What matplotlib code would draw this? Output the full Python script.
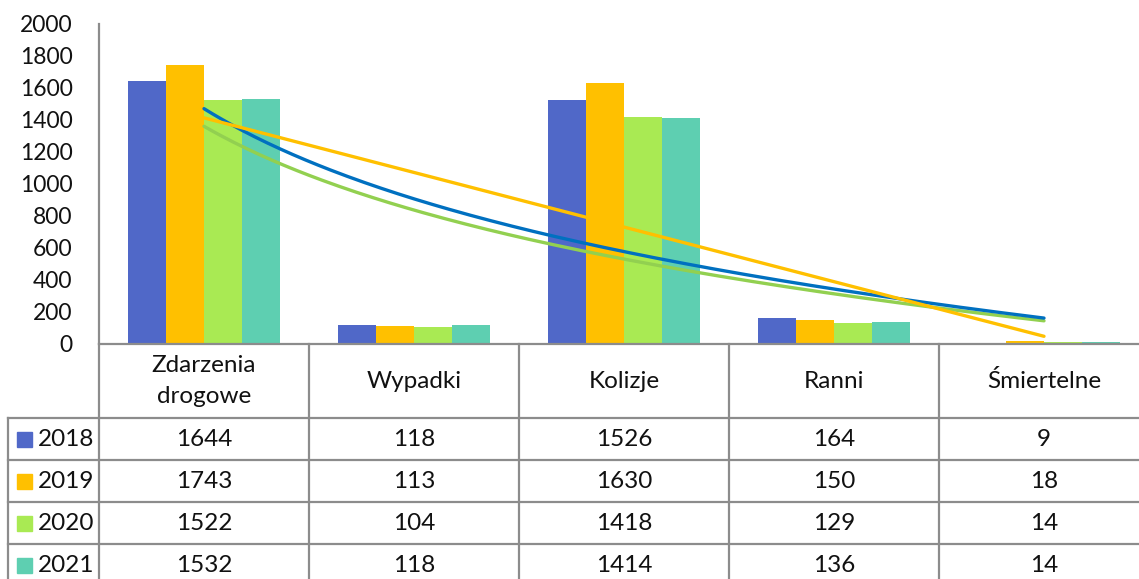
import numpy as np
import matplotlib
matplotlib.use("Agg")
import matplotlib.pyplot as plt
import matplotlib.transforms as mtransforms
from matplotlib.patches import Rectangle

plt.rcParams['font.family'] = ['Lato', 'DejaVu Sans']
plt.rcParams['font.size'] = 16

categories = ["Zdarzenia\ndrogowe", "Wypadki", "Kolizje", "Ranni", "Śmiertelne"]
years = ["2018", "2019", "2020", "2021"]
v2018 = [1644, 118, 1526, 164, 9]
v2019 = [1743, 113, 1630, 150, 18]
v2020 = [1522, 104, 1418, 129, 14]
v2021 = [1532, 118, 1414, 136, 14]
series = [v2018, v2019, v2020, v2021]
bar_colors = ["#5068C8", "#FFC000", "#A9EA53", "#5ECFB1"]
yticks = list(range(0, 2001, 200))

W, H = 1139, 579
fig = plt.figure(figsize=(W / 100, H / 100), dpi=100)
fig.patch.set_facecolor("white")

# chart axes: x runs 99px -> 1149px (last column cut off by the image edge)
col_w = 210
ax = fig.add_axes([99 / W, (H - 344) / H, 5 * col_w / W, 320 / H])
x = np.arange(1, len(categories) + 1)
bw = 152 / col_w / 4
for i, (vals, c) in enumerate(zip(series, bar_colors)):
    ax.bar(x + (i - 1.5) * bw, vals, width=bw, color=c, zorder=2)

# trendlines: log for 2018 and 2020, linear for 2019
xs = np.linspace(1, 5, 200)
b, a = np.polyfit(np.log(x), v2018, 1)
ax.plot(xs, a + b * np.log(xs), color="#0070C0", lw=2.4, zorder=4, solid_capstyle="round")
b, a = np.polyfit(x, v2019, 1)
ax.plot(xs, a + b * xs, color="#FFC000", lw=2.4, zorder=4, solid_capstyle="round")
b, a = np.polyfit(np.log(x), v2020, 1)
ax.plot(xs, a + b * np.log(xs), color="#92D050", lw=2.4, zorder=3, solid_capstyle="round")

ax.set_xlim(0.5, 5.5)
ax.set_ylim(0, 2000)
ax.set_yticks(yticks)
ax.set_xticks([])
ax.tick_params(axis="y", length=0, pad=19, labelsize=16.5, labelcolor="#111111")
for s in ["top", "right"]:
    ax.spines[s].set_visible(False)
ax.spines["left"].set_color("#8C8C8C")
ax.spines["left"].set_linewidth(1.6)
ax.spines["bottom"].set_color("#8C8C8C")
ax.spines["bottom"].set_linewidth(1.6)
ax.set_facecolor("none")

# data table in pixel coordinates below the chart
tab = fig.add_axes([0, 0, 1, 1], zorder=-1)
tab.set_xlim(0, W)
tab.set_ylim(H, 0)
tab.axis("off")
tr = mtransforms.blended_transform_factory(ax.transData, tab.transData)

line_kw = dict(color="#8C8C8C", lw=1.6)
row_lines = [418, 460, 502, 544]
for yl in row_lines:
    tab.plot([8, 1139], [yl, yl], **line_kw)
tab.plot([8, 8], [418, H], **line_kw)
for k in range(len(categories) + 1):
    tab.plot([k + 0.5, k + 0.5], [344, H], transform=tr, **line_kw)

txt = "#111111"
fs = 17.5
# header
for xi, cat in zip(x, categories):
    tab.text(xi, 381, cat, transform=tr, ha="center", va="center",
             fontsize=fs, linespacing=1.55, color=txt)

# rows
row_centers = [439, 481, 523, 565]
for yc, yr, vals, c in zip(row_centers, years, series, bar_colors):
    tab.add_patch(Rectangle((17, yc - 7.5), 15, 15, color=c))
    tab.text(38, yc, yr, ha="left", va="center", fontsize=fs, color=txt)
    for xi, v in zip(x, vals):
        tab.text(xi, yc, str(v), transform=tr, ha="center", va="center",
                 fontsize=fs, color=txt)

fig.savefig("out.png", dpi=100)
